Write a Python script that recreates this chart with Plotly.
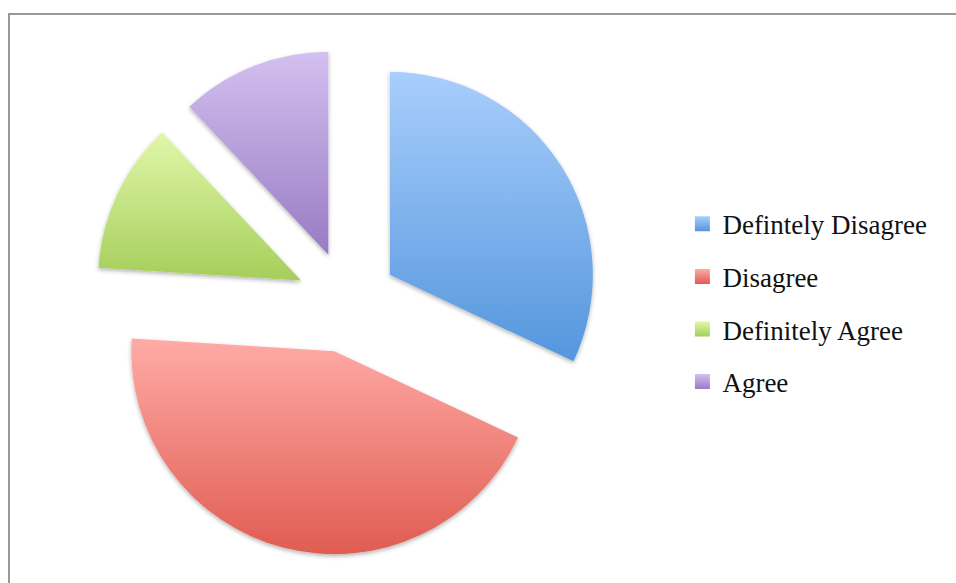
import json
import plotly.graph_objects as go

# Survey responses (25 respondents)
labels = ["Defintely Disagree", "Disagree", "Definitely Agree", "Agree"]
counts = [8, 11, 3, 3]

# Top / bottom colours of each slice's vertical gradient
top_colors = ["#a9cefc", "#ffaba6", "#e0f7aa", "#d3c0f0"]
bottom_colors = ["#5496dd", "#e05c52", "#a6ce5a", "#987bc3"]
mid_colors = ["#7db3ee", "#f2857e", "#c3e382", "#b59cda"]

W, H = 956, 583

# Pie box in pixels (centre 347, 302; side 507.5 for radius ~203 with 25% pull)
cx, cy, side = 347.0, 302.0, 507.5

fig = go.Figure()

fig.add_trace(go.Pie(
    labels=labels,
    values=counts,
    sort=False,
    direction="clockwise",
    rotation=0,
    pull=[0.25] * len(counts),
    marker=dict(colors=mid_colors, line=dict(width=0)),
    textinfo="none",
    hoverinfo="label+percent",
    showlegend=False,
    domain=dict(
        x=[(cx - side / 2) / W, (cx + side / 2) / W],
        y=[(H - (cy + side / 2)) / H, (H - (cy - side / 2)) / H],
    ),
))

# Legend entries as square markers, one group each so the rows can be spaced
for i, name in enumerate(labels):
    fig.add_trace(go.Scatter(
        x=[None], y=[None],
        mode="markers",
        name=name,
        legendgroup=name,
        marker=dict(symbol="square", size=15, color=top_colors[i],
                    gradient=dict(type="vertical", color=bottom_colors[i])),
        hoverinfo="skip",
    ))

fig.update_layout(
    width=W, height=H,
    margin=dict(l=0, r=0, t=0, b=0),
    paper_bgcolor="white",
    plot_bgcolor="white",
    xaxis=dict(visible=False),
    yaxis=dict(visible=False),
    legend=dict(
        x=0.7138, y=0.6574, xanchor="left", yanchor="top",
        traceorder="grouped",
        tracegroupgap=14.5,
        font=dict(family="Liberation Serif", size=27, color="#111111"),
        bgcolor="rgba(0,0,0,0)",
        itemwidth=30,
    ),
    shapes=[dict(
        type="rect", xref="paper", yref="paper",
        x0=9 / W, x1=1.05, y0=-0.05, y1=(H - 14) / H,
        line=dict(color="#999999", width=2),
        fillcolor="rgba(0,0,0,0)",
        layer="above",
    )],
)

post_script = """
var gd = document.getElementById('{plot_id}');
var ns = 'http://www.w3.org/2000/svg';
var svg = gd.querySelector('svg.main-svg');
var defs = svg.querySelector('defs');
if (!defs) { defs = document.createElementNS(ns, 'defs'); svg.insertBefore(defs, svg.firstChild); }
var tops = TOPS, bottoms = BOTTOMS;
var f = document.createElementNS(ns, 'filter');
f.setAttribute('id', 'sliceshadow');
f.setAttribute('x', '-10%'); f.setAttribute('y', '-10%');
f.setAttribute('width', '120%'); f.setAttribute('height', '120%');
var ds = document.createElementNS(ns, 'feDropShadow');
ds.setAttribute('dx', '0'); ds.setAttribute('dy', '2');
ds.setAttribute('stdDeviation', '2'); ds.setAttribute('flood-color', '#000');
ds.setAttribute('flood-opacity', '0.3');
f.appendChild(ds); defs.appendChild(f);
for (var i = 0; i < tops.length; i++) {
  var g = document.createElementNS(ns, 'linearGradient');
  g.setAttribute('id', 'slicegrad' + i);
  g.setAttribute('x1', '0'); g.setAttribute('y1', '0');
  g.setAttribute('x2', '0'); g.setAttribute('y2', '1');
  var s0 = document.createElementNS(ns, 'stop');
  s0.setAttribute('offset', '0'); s0.setAttribute('stop-color', tops[i]);
  var s1 = document.createElementNS(ns, 'stop');
  s1.setAttribute('offset', '1'); s1.setAttribute('stop-color', bottoms[i]);
  g.appendChild(s0); g.appendChild(s1); defs.appendChild(g);
}
var paths = gd.querySelectorAll('g.slice path.surface');
for (var j = 0; j < paths.length; j++) {
  paths[j].style.fill = 'url(#slicegrad' + j + ')';
  paths[j].style.filter = 'url(#sliceshadow)';
}
""".replace("TOPS", json.dumps(top_colors)).replace("BOTTOMS", json.dumps(bottom_colors))

fig.write_html("out.html", post_script=post_script)
